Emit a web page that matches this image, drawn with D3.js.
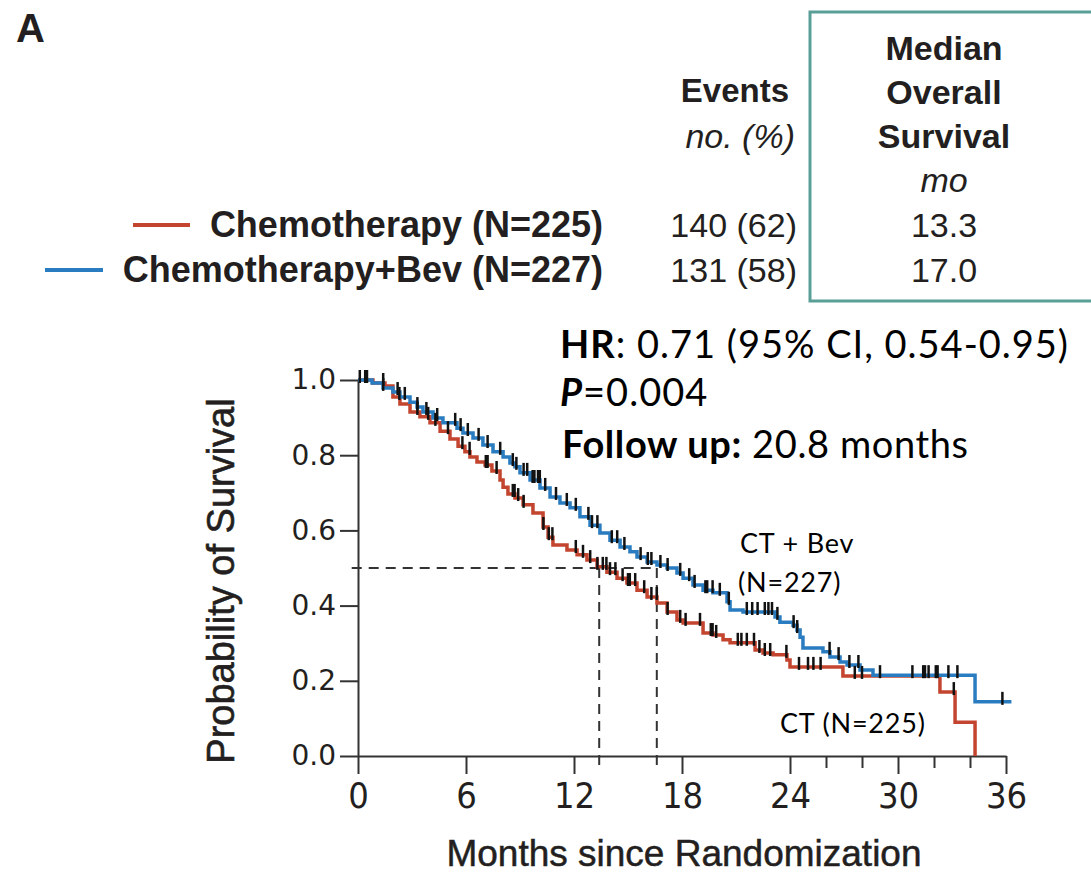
<!DOCTYPE html>
<meta charset="utf-8">
<style>
  body { margin: 0; background: #fff; }
  .nejm { font-family: "Liberation Sans", Arial, sans-serif; fill: #231f20; }
  .narrow { font-family: "Liberation Sans Narrow", "DejaVu Sans Condensed", "Liberation Sans", sans-serif; fill: #231f20; }
  .note { font-family: Lato, "Open Sans", sans-serif; fill: #000; }
</style>
<body>
<div id="km"></div>
<script src="https://d3js.org/d3.v7.min.js"></script>
<script>
    // Kaplan-Meier steps (months, survival)
    var ctTimes = [0, 0.83, 1.5, 1.94, 2.33, 2.89, 3.44, 4.0, 4.56, 5.11, 5.56, 5.94, 6.22, 6.61, 7.06, 7.44,
        7.89, 8.06, 8.33, 8.72, 9.17, 9.72, 10.28, 10.56, 10.83, 11.61, 12.17, 12.72, 13.28, 13.83, 14.39,
        14.94, 15.5, 16.06, 16.61, 17.17, 17.72, 18.06, 19.17, 19.72, 20.28, 20.67, 22.06, 22.5, 23.06,
        23.83, 24.0, 26.94, 32.33, 33.17, 34.28];
    var ctSurv = [1.0, 0.992, 0.984, 0.955, 0.936, 0.915, 0.902, 0.886, 0.864, 0.843, 0.824, 0.809, 0.795,
        0.782, 0.774, 0.758, 0.734, 0.715, 0.697, 0.686, 0.668, 0.646, 0.609, 0.582, 0.561, 0.548, 0.535,
        0.521, 0.503, 0.489, 0.473, 0.460, 0.441, 0.423, 0.407, 0.383, 0.362, 0.354, 0.327, 0.322, 0.309,
        0.301, 0.282, 0.274, 0.269, 0.255, 0.237, 0.213, 0.170, 0.090, 0.0];

    var bevTimes = [0, 0.78, 1.39, 1.94, 2.33, 2.89, 3.28, 3.61, 4.17, 4.72, 5.5, 5.83, 6.39, 6.94, 7.5,
        8.06, 8.44, 8.72, 9.0, 9.56, 10.11, 10.67, 11.22, 11.78, 12.33, 12.89, 13.44, 14.0, 14.56, 15.11,
        15.5, 16.06, 16.61, 17.17, 17.72, 18.06, 18.61, 19.17, 19.72, 20.5, 20.67, 21.39, 23.17, 23.44,
        24.17, 24.39, 24.56, 24.72, 25.83, 26.22, 26.78, 27.17, 27.89, 28.61, 34.28, 36.3];
    var bevSurv = [1.0, 0.992, 0.979, 0.968, 0.955, 0.941, 0.928, 0.915, 0.899, 0.886, 0.872, 0.859, 0.846,
        0.827, 0.809, 0.795, 0.779, 0.769, 0.753, 0.734, 0.713, 0.689, 0.673, 0.660, 0.636, 0.614, 0.593,
        0.574, 0.556, 0.543, 0.529, 0.516, 0.508, 0.500, 0.487, 0.473, 0.455, 0.441, 0.434, 0.410, 0.388,
        0.383, 0.370, 0.356, 0.348, 0.335, 0.316, 0.287, 0.277, 0.263, 0.250, 0.242, 0.229, 0.215, 0.144,
        0.144];

    // censored patients (months)
    var ctCensor = [0.4, 1.4, 2.3, 3.3, 3.9, 4.3, 5.0, 5.8, 6.2, 7.1, 7.2, 7.7, 8.6, 8.7, 8.9, 9.2, 10.3,
        10.6, 10.8, 12.1, 12.5, 12.9, 13.3, 13.6, 13.8, 14.0, 14.3, 14.7, 15.0, 15.1, 15.4, 15.9, 16.3,
        16.6, 17.2, 17.9, 18.2, 19.0, 19.6, 19.7, 19.9, 21.1, 21.3, 21.6, 22.0, 22.3, 22.6, 22.9, 23.8,
        24.5, 25.0, 25.3, 25.7, 27.6, 28.0, 33.1];
    var bevCensor = [0.1, 0.5, 1.4, 2.2, 2.6, 3.3, 3.8, 4.4, 5.4, 5.7, 6.1, 6.7, 7.2, 7.9, 8.6, 8.8, 9.2,
        9.4, 9.7, 9.8, 10.0, 10.1, 10.4, 11.0, 11.6, 12.1, 12.8, 13.0, 13.3, 14.1, 14.4, 14.8, 15.7, 16.1,
        16.3, 16.8, 17.2, 17.9, 18.4, 18.7, 19.3, 19.4, 19.7, 20.1, 20.6, 21.6, 21.9, 22.2, 22.6, 22.8,
        23.0, 23.3, 24.2, 24.4, 26.2, 26.7, 27.3, 27.8, 29.0, 30.8, 31.4, 31.5, 31.7, 32.1, 32.2, 32.8,
        33.3, 35.8];

    var xTicks = [0, 6, 12, 18, 24, 30, 36];
    var xMinor = [26, 28, 32, 34];
    var yTicks = [0, 0.2, 0.4, 0.6, 0.8, 1.0];
    var medianDrop = [13.4, 16.6]; // dashed guides as drawn

    var groups = ['Chemotherapy (N=225)', 'Chemotherapy+Bev (N=227)'];
    var events = ['140 (62)', '131 (58)'];
    var medians = ['13.3', '17.0'];
    var colors = ['#c4452f', '#2a7cc0'];

    var width = 1091,
        height = 876;

    var svg = d3.select('#km').append('svg')
        .attr('width', width)
        .attr('height', height)
        .style('background', '#fff');

    var x = d3.scaleLinear().domain([0, 36]).range([358, 1006]);
    var y = d3.scaleLinear().domain([0, 1]).range([756, 380]);

    // ---- header table ----
    svg.append('text').attr('class', 'nejm')
        .attr('x', 16).attr('y', 42)
        .style('font-size', '40px').style('font-weight', 'bold')
        .text('A');

    svg.append('rect')
        .attr('x', 810).attr('y', 12)
        .attr('width', 300).attr('height', 289)
        .attr('fill', 'none')
        .attr('stroke', '#5a9f97')
        .attr('stroke-width', 3);

    ['Median', 'Overall', 'Survival'].forEach(function(t, i) {
        svg.append('text').attr('class', 'nejm')
            .attr('x', 944).attr('y', 60 + i * 44)
            .attr('text-anchor', 'middle')
            .style('font-size', '34px').style('font-weight', 'bold')
            .text(t);
    });
    svg.append('text').attr('class', 'nejm')
        .attr('x', 944).attr('y', 192)
        .attr('text-anchor', 'middle')
        .style('font-size', '34px').style('font-style', 'italic')
        .text('mo');

    svg.append('text').attr('class', 'nejm')
        .attr('x', 789).attr('y', 102)
        .attr('text-anchor', 'end')
        .style('font-size', '33px').style('font-weight', 'bold')
        .text('Events');
    svg.append('text').attr('class', 'nejm')
        .attr('x', 795).attr('y', 148)
        .attr('text-anchor', 'end')
        .style('font-size', '34px').style('font-style', 'italic')
        .text('no. (%)');

    var rowY = [237, 282];
    var legendX = [[133, 190], [45, 103]];
    groups.forEach(function(g, i) {
        svg.append('line')
            .attr('x1', legendX[i][0]).attr('x2', legendX[i][1])
            .attr('y1', rowY[i] - 12).attr('y2', rowY[i] - 12)
            .attr('stroke', colors[i])
            .attr('stroke-width', 4);
        svg.append('text').attr('class', 'nejm')
            .attr('x', 603).attr('y', rowY[i])
            .attr('text-anchor', 'end')
            .style('font-size', '36px').style('font-weight', 'bold')
            .text(g);
        svg.append('text').attr('class', 'nejm')
            .attr('x', 797).attr('y', rowY[i])
            .attr('text-anchor', 'end')
            .style('font-size', '34px')
            .text(events[i]);
        svg.append('text').attr('class', 'nejm')
            .attr('x', 944).attr('y', rowY[i])
            .attr('text-anchor', 'middle')
            .style('font-size', '34px')
            .text(medians[i]);
    });

    // ---- stats note ----
    var hr = svg.append('text').attr('class', 'note')
        .attr('x', 560).attr('y', 358)
        .style('font-size', '38px').style('letter-spacing', '1px');
    hr.append('tspan').style('font-weight', 'bold').text('HR');
    hr.append('tspan').text(': 0.71 (95% CI, 0.54-0.95)');

    var p = svg.append('text').attr('class', 'note')
        .attr('x', 560).attr('y', 406)
        .style('font-size', '38px').style('letter-spacing', '1px');
    p.append('tspan').style('font-weight', 'bold').style('font-style', 'italic').text('P');
    p.append('tspan').text('=0.004');

    var fu = svg.append('text').attr('class', 'note')
        .attr('x', 562).attr('y', 458)
        .style('font-size', '38px').style('letter-spacing', '0.6px');
    fu.append('tspan').style('font-weight', 'bold').text('Follow up:');
    fu.append('tspan').text(' 20.8 months');

    // ---- axes ----
    var yAxis = svg.append('g')
        .attr('transform', 'translate(' + x(0) + ',0)')
        .call(d3.axisLeft(y).tickValues(yTicks).tickSize(18).tickSizeOuter(0)
            .tickPadding(4).tickFormat(d3.format('.1f')));
    yAxis.selectAll('text')
        .attr('class', 'nejm')
        .style('font-family', '"DejaVu Sans", sans-serif')
        .style('font-size', '28px')
        .attr('fill', '#222');

    var xAxis = svg.append('g')
        .attr('transform', 'translate(0,' + y(0) + ')')
        .call(d3.axisBottom(x).tickValues(xTicks).tickSize(18).tickSizeOuter(0).tickPadding(8));
    xAxis.selectAll('text')
        .attr('class', 'narrow')
        .style('font-size', '36px')
        .attr('fill', '#222');

    svg.append('g')
        .attr('transform', 'translate(0,' + y(0) + ')')
        .call(d3.axisBottom(x).tickValues(xMinor).tickSize(12).tickSizeOuter(0).tickFormat(''))
        .select('.domain').remove();

    svg.selectAll('.domain, .tick line')
        .attr('stroke', '#333')
        .attr('stroke-width', 2);

    svg.append('text').attr('class', 'nejm')
        .attr('transform', 'translate(234,581) rotate(-90)')
        .attr('text-anchor', 'middle')
        .style('font-size', '38px')
        .style('stroke', '#231f20').style('stroke-width', 0.6)
        .text('Probability of Survival');

    svg.append('text').attr('class', 'nejm')
        .attr('x', 684).attr('y', 866)
        .attr('text-anchor', 'middle')
        .style('font-size', '37px')
        .style('stroke', '#231f20').style('stroke-width', 0.5)
        .text('Months since Randomization');

    // ---- median guides ----
    svg.append('line')
        .attr('x1', x(-0.35)).attr('x2', x(medianDrop[1]))
        .attr('y1', y(0.5)).attr('y2', y(0.5))
        .attr('stroke', '#333').attr('stroke-width', 2)
        .attr('stroke-dasharray', '10,7');
    svg.selectAll('.vguide').data(medianDrop)
        .enter().append('line')
        .attr('x1', d => x(d)).attr('x2', d => x(d))
        .attr('y1', y(0.5)).attr('y2', y(-0.024))
        .attr('stroke', '#333').attr('stroke-width', 2)
        .attr('stroke-dasharray', '10,7');

    // ---- curves ----
    var line = d3.line()
        .x(d => x(d[0]))
        .y(d => y(d[1]))
        .curve(d3.curveStepAfter);

    var curves = [
        { times: ctTimes, surv: ctSurv, censor: ctCensor, color: colors[0] },
        { times: bevTimes, surv: bevSurv, censor: bevCensor, color: colors[1] }
    ];

    curves.forEach(function(c) {
        svg.append('path')
            .datum(d3.zip(c.times, c.surv))
            .attr('d', line)
            .attr('fill', 'none')
            .attr('stroke', c.color)
            .attr('stroke-width', 3.5);
    });

    curves.forEach(function(c) {
        svg.append('g').selectAll('line')
            .data(c.censor)
            .enter().append('line')
            .attr('x1', d => x(d)).attr('x2', d => x(d))
            .attr('y1', d => y(c.surv[d3.bisectRight(c.times, d) - 1]) - 10)
            .attr('y2', d => y(c.surv[d3.bisectRight(c.times, d) - 1]) + 3)
            .attr('stroke', '#111')
            .attr('stroke-width', 2.5);
    });

    // ---- curve labels ----
    svg.append('text').attr('class', 'note')
        .attr('x', 740).attr('y', 553)
        .style('font-size', '27px').style('letter-spacing', '0.8px')
        .text('CT + Bev');
    svg.append('text').attr('class', 'note')
        .attr('x', 738).attr('y', 592)
        .style('font-size', '27px').style('letter-spacing', '0.8px')
        .text('(N=227)');
    svg.append('text').attr('class', 'note')
        .attr('x', 780).attr('y', 733)
        .style('font-size', '27px').style('letter-spacing', '0.8px')
        .text('CT (N=225)');
</script>
</body>
